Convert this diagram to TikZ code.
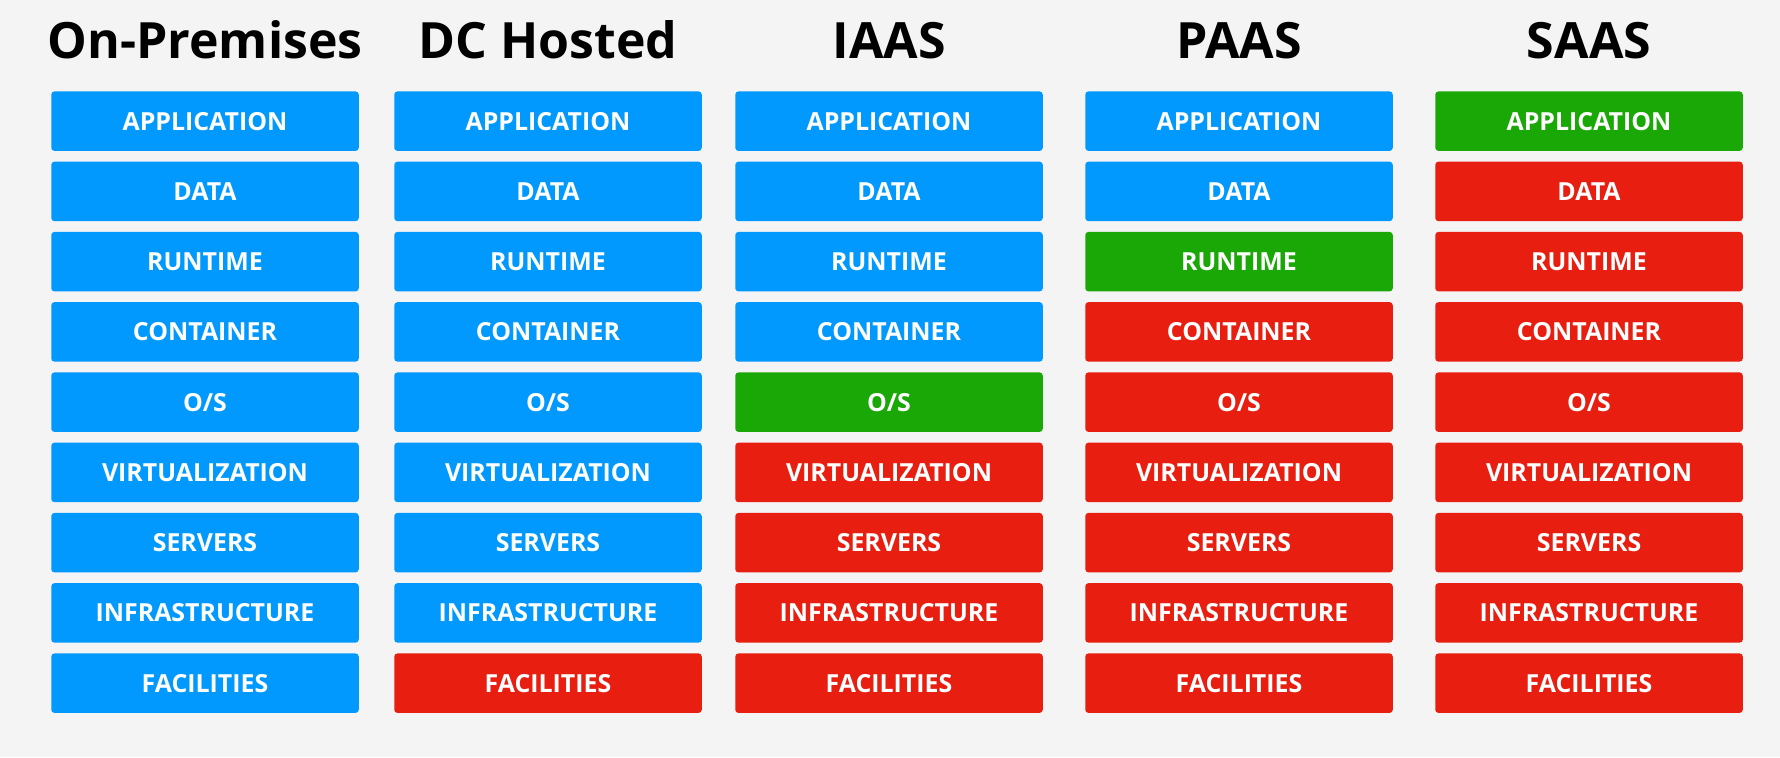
\documentclass[tikz,border=0pt]{standalone}
\usepackage{fontspec}
\setmainfont{Open Sans}
\definecolor{bgc}{HTML}{F4F4F4}
\definecolor{cblue}{HTML}{0299FF}
\definecolor{cgreen}{HTML}{1AA806}
\definecolor{cred}{HTML}{E81E10}
\tikzset{
  layer/.style={rounded corners=1.6pt, minimum width=153.75pt, minimum height=29.75pt, inner sep=0pt,
    text=white, font=\fontsize{12.45pt}{14pt}\selectfont\bfseries, anchor=north},
  lb/.style={layer, fill=cblue},
  lg/.style={layer, fill=cgreen},
  lr/.style={layer, fill=cred},
  coltitle/.style={font=\fontsize{25pt}{30pt}\selectfont\bfseries, text=black, anchor=base, inner sep=0pt}
}
\begin{document}
\begin{tikzpicture}[x=0.5pt,y=-0.5pt]
\fill[bgc] (0,0) rectangle (1780,757);
\useasboundingbox (0,0) rectangle (1780,757);
\def\labels{{"APPLICATION","DATA","RUNTIME","CONTAINER","O/S","VIRTUALIZATION","SERVERS","INFRASTRUCTURE","FACILITIES"}}
% column titles
\node[coltitle] (t1) at (205,58) {On-Premises};
\node[coltitle] (t2) at (548,58) {DC Hosted};
\node[coltitle] (t3) at (889,58) {IAAS};
\node[coltitle] (t4) at (1239,58) {PAAS};
\node[coltitle] (t5) at (1589,58) {SAAS};
% column specs: style for each row
\foreach \c/\xx/\st in {
  1/205/{lb,lb,lb,lb,lb,lb,lb,lb,lb},
  2/548/{lb,lb,lb,lb,lb,lb,lb,lb,lr},
  3/889/{lb,lb,lb,lb,lg,lr,lr,lr,lr},
  4/1239/{lb,lb,lg,lr,lr,lr,lr,lr,lr},
  5/1589/{lg,lr,lr,lr,lr,lr,lr,lr,lr}}{
  \foreach \s [count=\r from 0] in \st {
    \pgfmathsetmacro{\yy}{91+70.25*\r}
    \pgfmathparse{\labels[\r]}\let\lab\pgfmathresult
    \node[\s] (c\c r\r) at (\xx,\yy) {\raisebox{-0.5pt}{\lab}};
  }
}
\end{tikzpicture}
\end{document}
